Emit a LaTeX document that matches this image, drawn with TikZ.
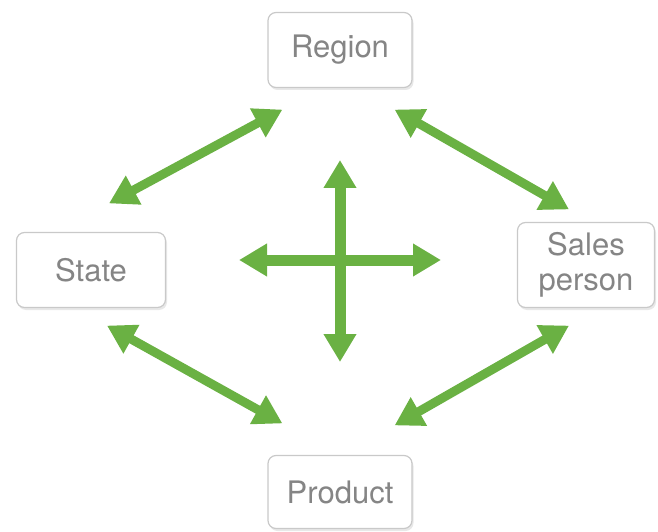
\documentclass[tikz,border=0pt]{standalone}
\usepackage{fontspec}
\setmainfont{TeX Gyre Heros}
\usetikzlibrary{arrows.meta}
\usetikzlibrary{shadows}

\begin{document}
\begin{tikzpicture}[x=1pt,y=1pt,
    box/.style={draw=boxline, line width=1.2pt, rounded corners=8pt, fill=white, text=label,
      font=\fontsize{31}{35}\selectfont, align=center,
      drop shadow={opacity=.18, shadow xshift=1.5pt, shadow yshift=-2.5pt}},
    link/.style={draw=arrowgreen, line width=9pt,
      {Triangle[length=28pt,width=31pt]}-{Triangle[length=28pt,width=31pt]}},
    cross/.style={link, line width=11pt}]
    \definecolor{arrowgreen}{HTML}{6AB143}
    \definecolor{boxline}{HTML}{C9C9C9}
    \definecolor{label}{HTML}{858585}
    \useasboundingbox (0,0) rectangle (658,531);  %Rahmen
    \node[box, minimum width=144pt, minimum height=75pt] (region) at (340,481) {Region};
    \node[box, minimum width=149pt, minimum height=75pt] (state) at (91,261) {State};
    \node[box, minimum width=137pt, minimum height=85pt] (sales) at (586,266) {Sales\\person};
    \node[box, minimum width=144pt, minimum height=73pt] (product) at (340,39) {Product};
    % Pfeile zwischen den Kaesten
    \draw[link] ([xshift=15pt,yshift=-21.5pt]region.south west) -- ([xshift=18pt,yshift=28.5pt]state.north);
    \draw[link] ([xshift=-18pt,yshift=-21.5pt]region.south east) -- ([xshift=-17pt,yshift=12.5pt]sales.north);
    \draw[link] ([xshift=16pt,yshift=-17.5pt]state.south) -- ([xshift=15pt,yshift=31.5pt]product.north west);
    \draw[link] ([xshift=-17pt,yshift=-17.5pt]sales.south) -- ([xshift=-18pt,yshift=29.5pt]product.north east);
    % Kreuz in der Mitte
    \coordinate (hub) at (340,271);
    \draw[cross] ([yshift=100pt]hub) -- ([yshift=-102pt]hub);
    \draw[cross] ([xshift=-101pt]hub) -- ([xshift=101pt]hub);
\end{tikzpicture}
\end{document}
